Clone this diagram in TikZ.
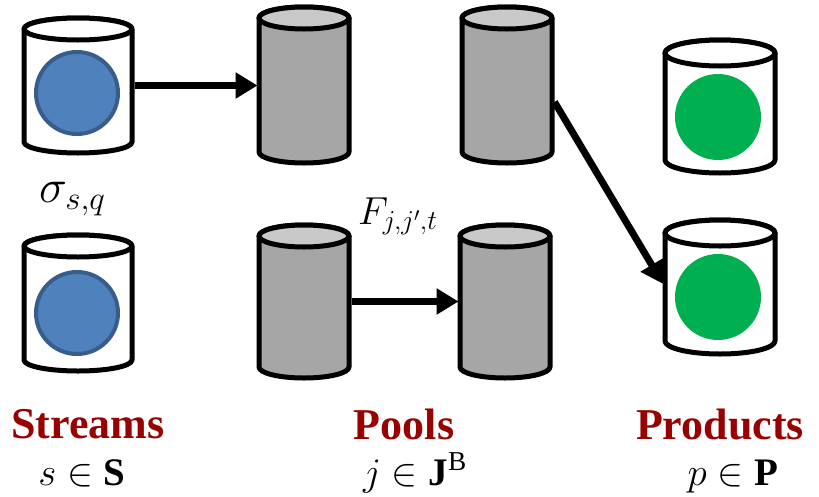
\documentclass[tikz,border=0pt]{standalone}
\usepackage{fix-cm}
\usepackage{fontspec}
\setmainfont{Liberation Serif}
\usetikzlibrary{arrows.meta}
\definecolor{sideGray}{HTML}{A6A6A6}
\definecolor{topGray}{HTML}{C9C9C9}
\definecolor{blueFill}{HTML}{4F81BD}
\definecolor{blueLine}{HTML}{385D8A}
\definecolor{greenFill}{HTML}{00B050}
\definecolor{catRed}{HTML}{990000}
\tikzset{
  drumline/.style={line width=5pt, line join=round},
  hitbox/.style={inner sep=0pt, outer sep=0pt, draw=none},
  flow/.style={line width=7pt, -{Triangle[length=22pt,width=25pt]}, shorten >=-1pt},
  catlabel/.style={text=catRed, font=\fontsize{44}{48}\selectfont\bfseries, inner sep=0pt, anchor=base},
  setlabel/.style={font=\fontsize{39}{44}\selectfont, inner sep=0pt, anchor=base},
  ball/.style={fill=blueFill, draw=blueLine, line width=4pt},
  gball/.style={fill=greenFill},
}
% #1 name, #2 cx, #3 top centre y, #4 bottom centre y, #5 rx, #6 ry, #7 side fill, #8 top fill
\newcommand\drum[8]{%
  \filldraw[drumline, fill=#7] (#2-#5,-#3) -- (#2-#5,-#4)
     arc[start angle=180,end angle=360,x radius=#5,y radius=#6]
     -- (#2+#5,-#3)
     arc[start angle=0,end angle=180,x radius=#5,y radius=#6] -- cycle;
  \filldraw[drumline, fill=#8] (#2,-#3) ellipse[x radius=#5,y radius=#6];
  \node[hitbox, minimum width={2*#5+5}, minimum height={#4-#3}] (#1) at (#2,{-(#3+#4)/2}) {};
}
\begin{document}
\begin{tikzpicture}[x=1pt,y=1pt]
\path[use as bounding box] (0,0) rectangle (819,-496);
% streams
\drum{s1}{78}{29}{142}{54}{11}{white}{white}
\drum{s2}{78}{246}{360}{54}{11}{white}{white}
\draw[ball] (77,-93) circle[radius=41];
\draw[ball] (77,-313) circle[radius=41];
% pools
\drum{p1}{304}{18}{152}{45}{11}{sideGray}{topGray}
\drum{p2}{304}{236}{367}{45}{11}{sideGray}{topGray}
\drum{p3}{507}{18}{152}{45}{11}{sideGray}{topGray}
\drum{p4}{505}{236}{367}{45}{11}{sideGray}{topGray}
% products
\drum{q1}{720}{53}{160}{55}{13}{white}{white}
\drum{q2}{720}{233}{341}{55}{13}{white}{white}
\fill[gball] (718,-117) circle[radius=43];
\fill[gball] (718,-297) circle[radius=43];
% connectors
\draw[flow] (s1.east) -- (s1.east -| p1.west);
\draw[flow] (p2.east) -- (p2.east -| p4.west);
\draw[flow] ([yshift=-17pt]p3.east) -- ([yshift=4pt]q2.west);
% math labels
\node[inner sep=0pt, anchor=base west, font=\fontsize{47}{50}\selectfont] (sig) at (39,-202) {$\sigma_{s,q}$};
\node[inner sep=0pt, anchor=base west, font=\fontsize{39}{42}\selectfont] (flw) at (358,-224) {$F_{j,j',t}$};
% category labels
\node[catlabel] (cS) at (88,-438) {Streams};
\node[catlabel] (cP) at (404,-439) {Pools};
\node[catlabel] (cQ) at (720,-439) {Products};
\node[setlabel] (sS) at (82,-485) {$s\in\mathbf{S}$};
\node[setlabel] (sJ) at (415,-485) {$j\in\mathbf{J}^{\mathrm{B}}$};
\node[setlabel] (sP) at (733,-485) {$p\in\mathbf{P}$};
\end{tikzpicture}
\end{document}
